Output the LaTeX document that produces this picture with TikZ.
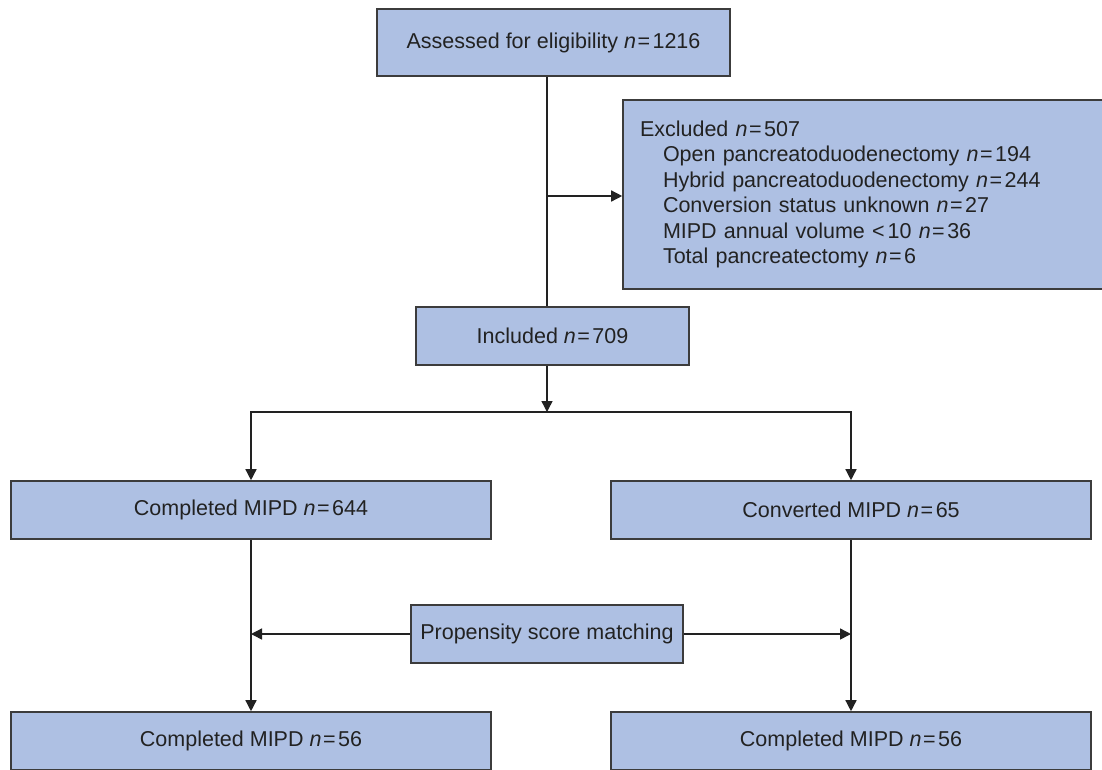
\documentclass[tikz,border=0pt]{standalone}
\usepackage{fontspec}
\setmainfont{Liberation Sans}
\usetikzlibrary{arrows.meta}
\definecolor{boxfill}{HTML}{AEC0E3}
\definecolor{boxline}{HTML}{3C3C3C}
\definecolor{txt}{HTML}{222222}
\newcommand{\nval}[1]{{\itshape n}\kern1.5pt=\kern2.5pt#1}
\begin{document}
\begin{tikzpicture}[x=1pt,y=-1pt,
  box/.style={draw=boxline, line width=1.6pt, fill=boxfill, text=txt, inner sep=0pt,
    font=\fontsize{21.5}{25.4}\selectfont},
  conn/.style={draw=txt, line width=1.4pt},
  arr/.style={conn, -{Triangle[length=11pt,width=11pt]}}]
\useasboundingbox (0,0) rectangle (1102,769);
\fill[white] (0,0) rectangle (1102,769);

\node[box, minimum width=353pt, minimum height=67pt] (assess) at (553.5,42.5) {Assessed for eligibility \nval{1216}};

\node[box, minimum width=492pt, minimum height=189pt, text width=458pt, inner xsep=17pt, align=left] (excl) at (869,194.5)
  {Excluded \nval{507}\\
   \hspace*{23pt}Open pancreatoduodenectomy \nval{194}\\
   \hspace*{23pt}Hybrid pancreatoduodenectomy \nval{244}\\
   \hspace*{23pt}Conversion status unknown \nval{27}\\
   \hspace*{23pt}MIPD annual volume <\kern3pt10 \nval{36}\\
   \hspace*{23pt}Total pancreatectomy \nval{6}};

\node[box, minimum width=273pt, minimum height=58pt] (incl) at (552.5,336) {Included \nval{709}};

\node[box, minimum width=480pt, minimum height=58pt] (comp) at (251,510) {Completed MIPD \nval{644}};
\node[box, minimum width=480pt, minimum height=58pt] (conv) at (851,510) {Converted MIPD \nval{65}};

\node[box, minimum width=272pt, minimum height=58pt] (prop) at (547,634) {Propensity score matching};

\node[box, minimum width=480pt, minimum height=58pt] (compm) at (251,741) {Completed MIPD \nval{56}};
\node[box, minimum width=480pt, minimum height=58pt] (convm) at (851,741) {Completed MIPD \nval{56}};

\coordinate (j1) at (547,196);
\coordinate (br) at (547,412);

\draw[conn] (assess.south -| j1) -- (incl.north -| j1);
\draw[arr] (j1) -- (j1 -| excl.west);
\draw[arr] (incl.south -| br) -- (br);
\draw[arr] (br) -| (comp.north);
\draw[arr] (br) -| (conv.north);
\draw[arr] (comp.south) -- (compm.north);
\draw[arr] (conv.south) -- (convm.north);
\draw[arr] (prop.west) -- (prop.west -| comp.south);
\draw[arr] (prop.east) -- (prop.east -| conv.south);
\end{tikzpicture}
\end{document}
